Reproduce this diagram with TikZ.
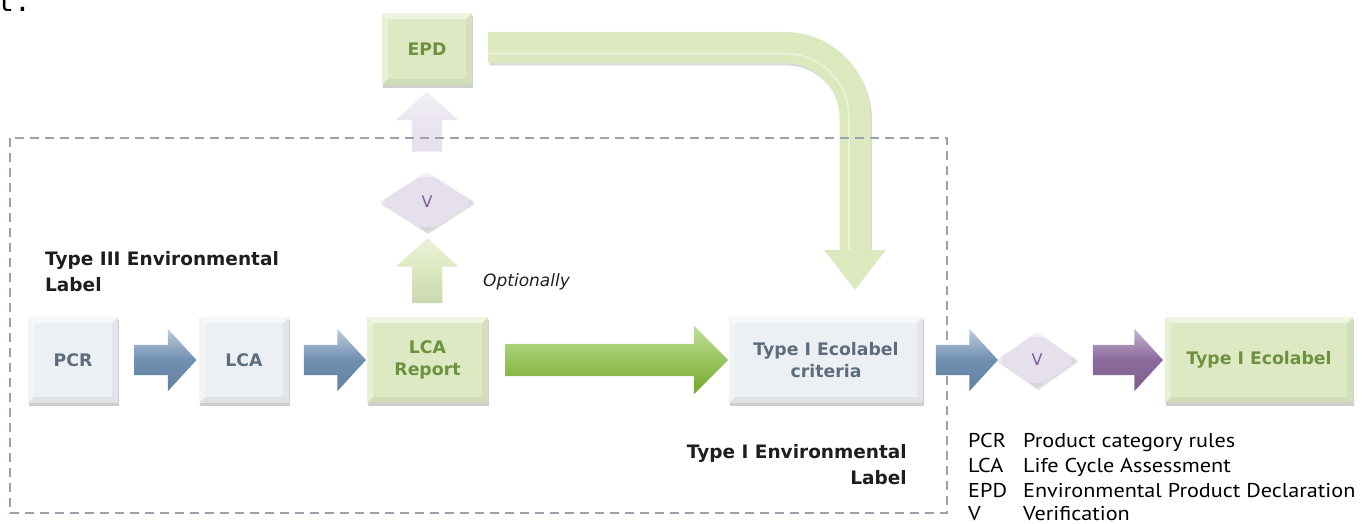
\documentclass[tikz,border=0pt]{standalone}
\usepackage{fontspec}
\setmainfont{PT Sans}
\newfontfamily\labelfont{DejaVu Sans}
\newfontfamily\legendfont[FakeStretch=1.11]{PT Sans}
\newfontfamily\monofam{DejaVu Sans Mono}
\usetikzlibrary{shapes.geometric,shapes.arrows,shadows,calc}

\definecolor{boxgray}{HTML}{ECF0F4}
\definecolor{graytext}{HTML}{5D6D7E}
\definecolor{boxgreen}{HTML}{DDE9C3}
\definecolor{greentext}{HTML}{6E9140}
\definecolor{steel}{HTML}{6F8FB1}
\definecolor{leaf}{HTML}{8CC43F}
\definecolor{leafdark}{HTML}{72A82A}
\definecolor{plum}{HTML}{8B6A9C}
\definecolor{lilac}{HTML}{E6E0EC}
\definecolor{lilactext}{HTML}{7C5C94}
\definecolor{palegreen}{HTML}{DCE9BF}
\definecolor{dashgray}{HTML}{9AA3AD}
\definecolor{inktext}{HTML}{1E1E1E}

\tikzset{
  bevel/.style={path picture={
    \fill[white,opacity=.55] (path picture bounding box.north west) -- (path picture bounding box.north east)
      -- ([shift={(-#1,-#1)}]path picture bounding box.north east) -- ([shift={(#1,-#1)}]path picture bounding box.north west) -- cycle;
    \fill[white,opacity=.35] (path picture bounding box.north west) -- (path picture bounding box.south west)
      -- ([shift={(#1,#1)}]path picture bounding box.south west) -- ([shift={(#1,-#1)}]path picture bounding box.north west) -- cycle;
    \fill[black,opacity=.06] (path picture bounding box.south west) -- (path picture bounding box.south east)
      -- ([shift={(-#1,#1)}]path picture bounding box.south east) -- ([shift={(#1,#1)}]path picture bounding box.south west) -- cycle;
    \fill[black,opacity=.04] (path picture bounding box.north east) -- (path picture bounding box.south east)
      -- ([shift={(-#1,#1)}]path picture bounding box.south east) -- ([shift={(-#1,-#1)}]path picture bounding box.north east) -- cycle;
  }},
  panel/.style={rectangle, inner sep=0pt, align=center, bevel=6pt,
    font=\labelfont\fontsize{17.3}{22}\selectfont\bfseries,
    drop shadow={shadow xshift=1pt, shadow yshift=-3pt, opacity=.35, fill=black!55}},
  graypanel/.style={panel, fill=boxgray, text=graytext},
  greenpanel/.style={panel, fill=boxgreen, text=greentext},
  vdiamond/.style={diamond, inner sep=0pt, fill=lilac, text=lilactext, bevel=5pt,
    font=\labelfont\fontsize{16}{20}\selectfont,
    drop shadow={shadow xshift=1pt, shadow yshift=-2pt, opacity=.25, fill=black!50}},
  blockarrow/.style={single arrow, inner xsep=0pt, inner ysep=15pt,
    single arrow head extend=16pt, single arrow tip angle=95},
  bluearrow/.style={blockarrow, top color=steel!45!white, bottom color=steel!90!black, middle color=steel},
  purplearrow/.style={blockarrow, top color=plum!50!white, bottom color=plum!90!black, middle color=plum},
  uparrow/.style={blockarrow, rotate=90},
  heading/.style={inner sep=0pt, text=inktext, font=\labelfont\fontsize{18.5}{26}\selectfont\bfseries},
  legendline/.style={inner sep=0pt, anchor=base west, text=black, font=\legendfont\fontsize{20}{25}\selectfont},
}

\begin{document}
\begin{tikzpicture}[x=1pt,y=-1pt]
\useasboundingbox (0,0) rectangle (1371,524);

% boxes of the main chain
\node[graypanel, minimum width=90, minimum height=86] (pcr) at (73,360) {PCR};
\node[graypanel, minimum width=90, minimum height=86] (lca) at (244,360) {LCA};
\node[greenpanel, minimum width=121, minimum height=86] (rep) at (427.5,360) {LCA\\Report};
\node[graypanel, minimum width=194, minimum height=86] (crit) at (826,360) {Type I Ecolabel\\criteria};
\node[greenpanel, minimum width=188, minimum height=86] (eco) at (1259,360) {Type I Ecolabel};

% verification branch towards the EPD
\node[vdiamond, minimum width=94, minimum height=60] (vtop) at (427,202) {V};
\node[greenpanel, minimum width=90, minimum height=72] (epd) at (427,49) {EPD};
\node[vdiamond, minimum width=80, minimum height=56] (vright) at (1037,360) {V};

\node[uparrow, top color=palegreen!60!white, bottom color=palegreen!92!black, middle color=palegreen, minimum height=65] (up1)
  at ($(rep.north)!.5!(vtop.south)+(0,3)$) {};
\node[uparrow, top color=lilac!50!white, bottom color=lilac, middle color=lilac!85!white, minimum height=60] (up2)
  at ($(vtop.north)!.5!(epd.south)$) {};

% bent arrow from the EPD down to the ecolabel criteria
\coordinate (bstart) at ($(epd.east)+(16,-1.5)$);
\coordinate (btip) at ($(crit.north)+(29,-27)$);
\coordinate (bbase) at ($(btip)+(0,-40)$);
\draw[black, opacity=.15, line width=31pt, rounded corners=70pt, transform canvas={xshift=1.5pt,yshift=-2.5pt}]
  (bstart) -| (bbase);
\draw[palegreen, line width=31pt, rounded corners=70pt] (bstart) -| (bbase);
\draw[white, opacity=.45, line width=1.6pt, rounded corners=64pt] ($(bstart)+(0,6)$) -| ($(bbase)+(-6,0)$);
\fill[palegreen] ($(bbase)+(-31,0)$) -- ($(bbase)+(31,0)$) -- (btip) -- cycle;

% dashed frame of the Type I environmental label
\draw[dashgray, line width=2.2pt, dash pattern=on 9pt off 6pt] (10,138) rectangle (947,513);

% flow arrows
\node[bluearrow, minimum height=62] (a1) at ($(pcr.east)!.5!(lca.west)$) {};
\node[bluearrow, minimum height=62] (a2) at ($(lca.east)!.5!(rep.west)$) {};
\node[blockarrow, inner ysep=16pt, single arrow head extend=18pt, single arrow tip angle=90,
  top color=leaf!55!white, middle color=leaf, bottom color=leafdark, minimum height=223] (a3)
  at ($(rep.east)!.5!(crit.west)$) {};
\node[bluearrow, minimum height=62] (a4) at ($(crit.east)!.5!(vright.west)$) {};
\node[purplearrow, minimum height=70] (a5) at ($(vright.east)!.5!(eco.west)$) {};

% labels
\node[heading, anchor=west, align=left] (type3) at (45,272) {Type III Environmental\\Label};
\node[heading, anchor=east, align=right] (type1) at (907,465) {Type I Environmental\\Label};
\node[inner sep=0pt, anchor=west, text=black!88, font=\labelfont\fontsize{17}{20}\selectfont\itshape] (opt) at (483,282) {Optionally};

% legend
\node[legendline] (leg1) at (968,447) {\makebox[55pt][l]{PCR}Product category rules};
\node[legendline] (leg2) at (968,472) {\makebox[55pt][l]{LCA}Life Cycle Assessment};
\node[legendline] (leg3) at (968,497) {\makebox[55pt][l]{EPD}Environmental Product Declaration};
\node[legendline] (leg4) at (968,520) {\makebox[55pt][l]{V}Verification};

% tail of the preceding text line
\node[inner sep=0pt, anchor=base west, font=\monofam\fontsize{28}{30}\selectfont] (tail) at (-3,12) {t.};
\end{tikzpicture}
\end{document}
